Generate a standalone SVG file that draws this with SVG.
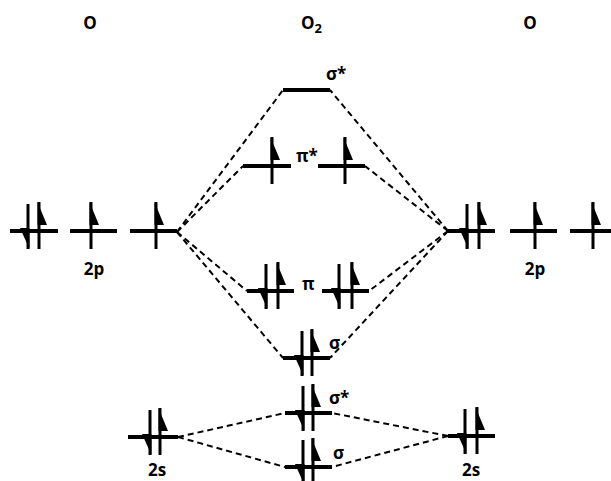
<svg xmlns="http://www.w3.org/2000/svg" width="611" height="481" viewBox="0 0 611 481">
<style>
.lv{stroke:#000;stroke-width:4;fill:none}
.sp line{stroke:#000;stroke-width:3}
.sp polygon{fill:#000}
.cn line{stroke:#000;stroke-width:2;stroke-dasharray:6 4}
text{font-family:"Open Sans","Liberation Sans",sans-serif;font-weight:bold;font-size:17px;fill:#000}
.c{text-anchor:middle}
</style>
<defs>
<g id="up" class="sp"><line x1="0" y1="-29" x2="0" y2="18"/><polygon points="-1.5,-29 8,-6 -1.5,-6"/></g>
<g id="dn" class="sp"><line x1="0" y1="-27" x2="0" y2="18"/><polygon points="1.5,18 -8,-3 1.5,-3"/></g>
</defs>
<rect width="611" height="481" fill="#fff"/>
<g id="titles">
<text class="c" x="90" y="29">O</text>
<text x="301" y="29">O<tspan font-size="13" dy="4">2</tspan></text>
<text class="c" x="530" y="29">O</text>
</g>
<g id="connectors" class="cn">
<line x1="177" y1="232" x2="283" y2="90"/>
<line x1="177" y1="232" x2="243" y2="166"/>
<line x1="177" y1="232" x2="247" y2="291"/>
<line x1="177" y1="232" x2="283" y2="358"/>
<line x1="448" y1="231" x2="330" y2="90"/>
<line x1="448" y1="231" x2="365" y2="166"/>
<line x1="448" y1="231" x2="369" y2="291"/>
<line x1="448" y1="231" x2="330" y2="358"/>
<line x1="178" y1="437" x2="285" y2="413"/>
<line x1="178" y1="437" x2="285" y2="467"/>
<line x1="448" y1="436" x2="332" y2="413"/>
<line x1="448" y1="436" x2="332" y2="467"/>
</g>
<g id="left-2p">
<line class="lv" x1="10" y1="231" x2="58" y2="231"/>
<use href="#dn" x="28" y="231"/><use href="#up" x="39" y="231"/>
<line class="lv" x1="70" y1="231" x2="117" y2="231"/>
<use href="#up" x="91" y="231"/>
<line class="lv" x1="130" y1="231" x2="177" y2="231"/>
<use href="#up" x="156" y="231"/>
<text class="c" x="94" y="275">2p</text>
</g>
<g id="right-2p">
<line class="lv" x1="448" y1="231" x2="495" y2="231"/>
<use href="#dn" x="467" y="231"/><use href="#up" x="479" y="231"/>
<line class="lv" x1="510" y1="231" x2="557" y2="231"/>
<use href="#up" x="535" y="231"/>
<line class="lv" x1="570" y1="231" x2="611" y2="231"/>
<use href="#up" x="593" y="231"/>
<text class="c" x="535" y="275">2p</text>
</g>
<g id="sigma-star-2p">
<line class="lv" x1="283" y1="90" x2="330" y2="90"/>
<text x="326" y="80">σ*</text>
</g>
<g id="pi-star">
<line class="lv" x1="243" y1="166" x2="291" y2="166"/>
<use href="#up" x="272" y="166"/>
<line class="lv" x1="318" y1="166" x2="365" y2="166"/>
<use href="#up" x="345" y="166"/>
<text x="296" y="162">π*</text>
</g>
<g id="pi">
<line class="lv" x1="247" y1="291" x2="294" y2="291"/>
<use href="#dn" x="266" y="291"/><use href="#up" x="278" y="291"/>
<line class="lv" x1="322" y1="291" x2="369" y2="291"/>
<use href="#dn" x="339" y="291"/><use href="#up" x="352" y="291"/>
<text x="302" y="290">π</text>
</g>
<g id="sigma-2p">
<line class="lv" x1="283" y1="358" x2="330" y2="358"/>
<use href="#dn" x="302" y="358"/><use href="#up" x="312" y="358"/>
<text x="329" y="349">σ</text>
</g>
<g id="sigma-star-2s">
<line class="lv" x1="285" y1="413" x2="332" y2="413"/>
<use href="#dn" x="303" y="413"/><use href="#up" x="313" y="413"/>
<text x="329" y="404">σ*</text>
</g>
<g id="sigma-2s">
<line class="lv" x1="285" y1="467" x2="332" y2="467"/>
<use href="#dn" x="303" y="467"/><use href="#up" x="313" y="467"/>
<text x="333" y="459">σ</text>
</g>
<g id="left-2s">
<line class="lv" x1="128" y1="437" x2="178" y2="437"/>
<use href="#dn" x="150" y="437"/><use href="#up" x="160" y="437"/>
<text class="c" x="157" y="476">2s</text>
</g>
<g id="right-2s">
<line class="lv" x1="448" y1="436" x2="495" y2="436"/>
<use href="#dn" x="465" y="436"/><use href="#up" x="477" y="436"/>
<text class="c" x="471" y="476">2s</text>
</g>
</svg>
